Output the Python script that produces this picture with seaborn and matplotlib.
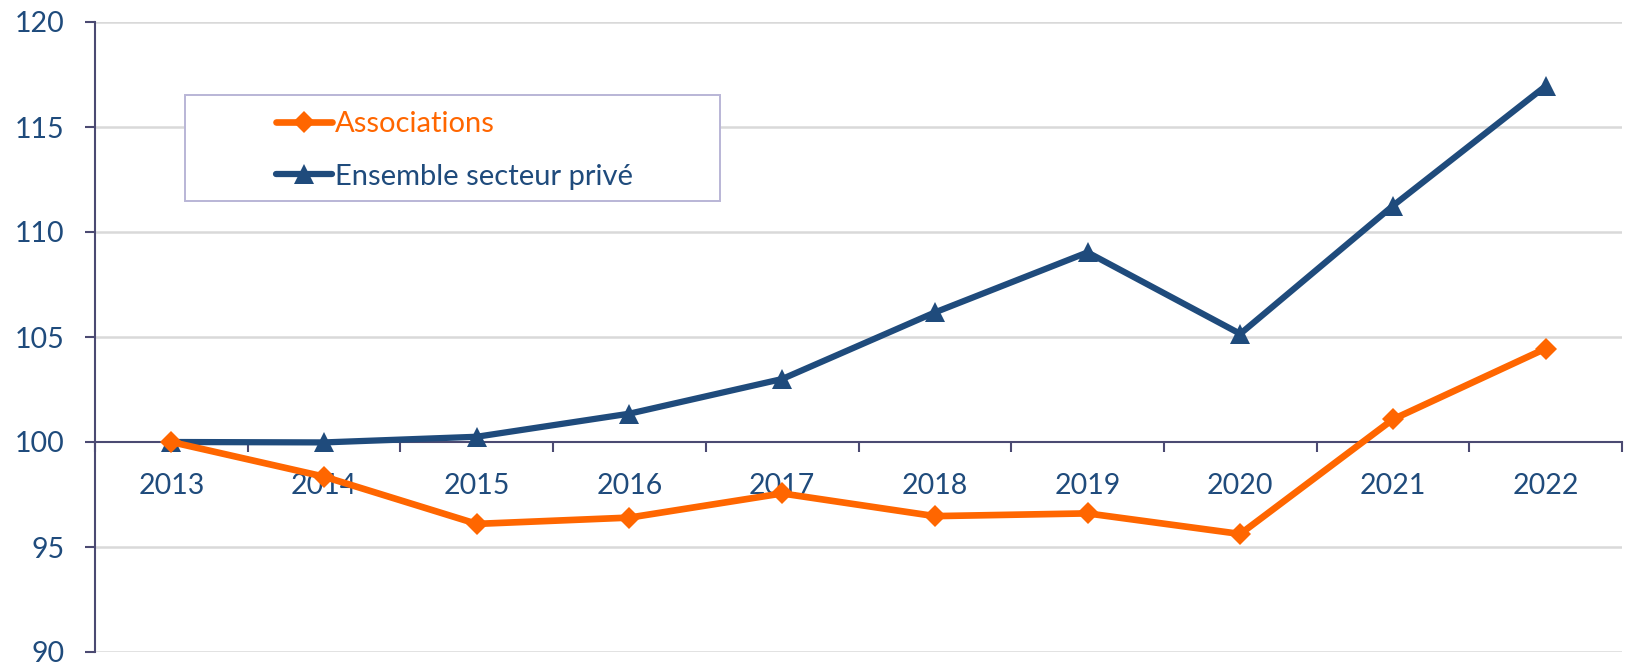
import numpy as np
import pandas as pd
import matplotlib
matplotlib.use("Agg")
import matplotlib.pyplot as plt
import seaborn as sns
from matplotlib.patches import Rectangle
from matplotlib.lines import Line2D

sns.set_style("white")
plt.rcParams['font.family'] = ['Lato', 'DejaVu Sans']

# --- data (index base 100 in 2013) ---
years = ['2013', '2014', '2015', '2016', '2017', '2018', '2019', '2020', '2021', '2022']
associations = [100.0, 98.35, 96.1, 96.4, 97.55, 96.47, 96.6, 95.62, 101.08, 104.45]
ensemble_prive = [100.0, 99.98, 100.25, 101.35, 103.0, 106.17, 109.03, 105.15, 111.25, 116.95]
yticks = [90, 95, 100, 105, 110, 115, 120]

orange = '#FF6600'
navy = '#1F4B7C'
axis_col = '#4B4A72'
grid_col = '#D9D9D9'

df_a = pd.DataFrame({'year': years, 'value': associations})
df_e = pd.DataFrame({'year': years, 'value': ensemble_prive})

fig = plt.figure(figsize=(16.46, 6.62), dpi=100)
ax = fig.add_axes([95 / 1646, 1 - 652 / 662, (1622 - 95) / 1646, (652 - 22) / 662])

sns.lineplot(data=df_e, x='year', y='value', ax=ax, color=navy, lw=4.5,
             marker='^', markersize=14.5, markeredgewidth=0, zorder=3, sort=False)
sns.lineplot(data=df_a, x='year', y='value', ax=ax, color=orange, lw=4.8,
             marker='D', markersize=11, markeredgewidth=0, zorder=4, sort=False)

ax.set_xlim(-0.5, len(years) - 0.5)
ax.set_ylim(90, 120)
ax.set_yticks(yticks)
ax.set_xlabel('')
ax.set_ylabel('')

# gridlines except the axis line itself
for v in yticks:
    if v != 100:
        ax.axhline(v, color=grid_col, lw=1.8, zorder=0)

# x axis crossing at 100, ticks between categories
for s in ['top', 'right']:
    ax.spines[s].set_visible(False)
ax.spines['bottom'].set_position(('data', 100))
for s in ['bottom', 'left']:
    ax.spines[s].set_color(axis_col)
    ax.spines[s].set_linewidth(1.5)

ax.set_xticks(np.arange(len(years)))
ax.set_xticklabels(years)
ax.set_xticks(np.arange(len(years) + 1) - 0.5, minor=True)
ax.tick_params(axis='x', which='major', bottom=True, length=0, pad=22,
               labelsize=20.5, labelcolor=navy)
ax.tick_params(axis='x', which='minor', bottom=True, length=7, width=1.5,
               color=axis_col, direction='out')
ax.tick_params(axis='y', left=True, length=7, width=1.5, color=axis_col,
               direction='out', pad=15, labelsize=20.5, labelcolor=navy)

# legend box
box = Rectangle(((185 - 95) / 1527, (652 - 201) / 630), (720 - 185) / 1527, (201 - 95) / 630,
                transform=ax.transAxes, facecolor='white',
                edgecolor='#B9B5D6', lw=1.4, zorder=5)
ax.add_patch(box)
handles = [Line2D([], [], color=orange, lw=4.8, marker='D', markersize=11, markeredgewidth=0),
           Line2D([], [], color=navy, lw=4.5, marker='^', markersize=14.5, markeredgewidth=0)]
leg = ax.legend(handles, ['Associations', 'Ensemble secteur privé'], frameon=False,
                loc='center left', bbox_to_anchor=((276 - 95) / 1527, (652 - 150.5) / 630),
                fontsize=21, handlelength=1.92, handletextpad=0.1, labelspacing=0.9,
                labelcolor='linecolor', borderaxespad=0, borderpad=0)
leg.set_zorder(6)

fig.savefig('out.png', dpi=100)
